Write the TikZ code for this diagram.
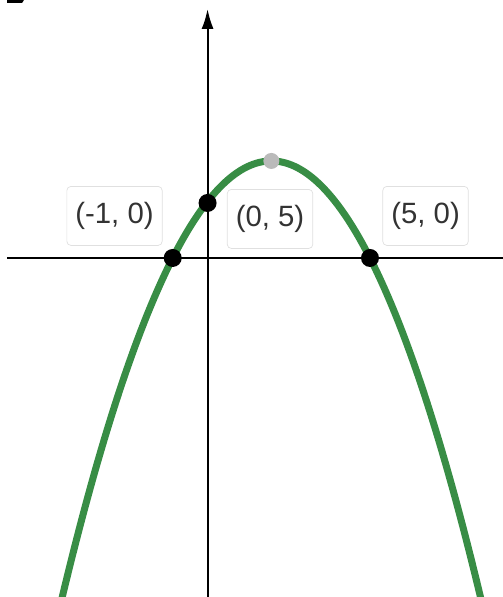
\documentclass[tikz,border=0pt]{standalone}
\usepackage{fontspec}
\setmainfont{Liberation Sans}
\usetikzlibrary{arrows.meta}
\definecolor{curvegreen}{RGB}{56,141,69}
\definecolor{vertexgray}{RGB}{186,186,186}
\definecolor{boxedge}{RGB}{224,224,224}
\tikzset{
  ptdot/.style={circle,fill=black,inner sep=0pt,minimum size=0.36cm},
  ptlabel/.style={draw=boxedge,fill=white,rounded corners=0.08cm,text=black!80,
    inner xsep=0.17cm,minimum height=1.18cm,font=\fontsize{16.7}{18}\selectfont}
}
\begin{document}
\begin{tikzpicture}[x=0.6576cm,y=0.2156cm]
\useasboundingbox (-6.253,-31.45) rectangle (9.045,23.93);
\begin{scope}
\clip (-6.253,-31.45) rectangle (9.045,23.93);
% axes
\draw[line width=0.04cm] (-6.04,0)--(9.1,0);
\draw[line width=0.04cm,-{Latex[length=0.4cm,width=0.24cm]}] (0.06,-32)--(0.06,23.1);
% parabola
\draw[curvegreen,line width=0.14cm] plot[domain=-4.5:8.5,samples=120] (\x,{-(\x+1)*(\x-5)});
% cut-off letter in the corner
\fill (-6.04,23.95) -- (-5.52,23.95) -- (-5.58,23.66) -- (-6.04,23.66) -- cycle;
\end{scope}
% labels
\node[ptlabel] (lblneg) at (-2.77,3.90) {(-1, 0)};
\node[ptlabel] (lblint) at (1.96,3.62) {(0, 5)};
\node[ptlabel] (lblpos) at (6.69,3.90) {(5, 0)};
% points
\node[ptdot] (rootneg) at (-1,0) {};
\node[ptdot] (yint) at (0.06,5.1) {};
\node[ptdot] (rootpos) at (5,0) {};
\node[ptdot,fill=vertexgray,minimum size=0.32cm] (vtx) at (2,9) {};
\end{tikzpicture}
\end{document}
